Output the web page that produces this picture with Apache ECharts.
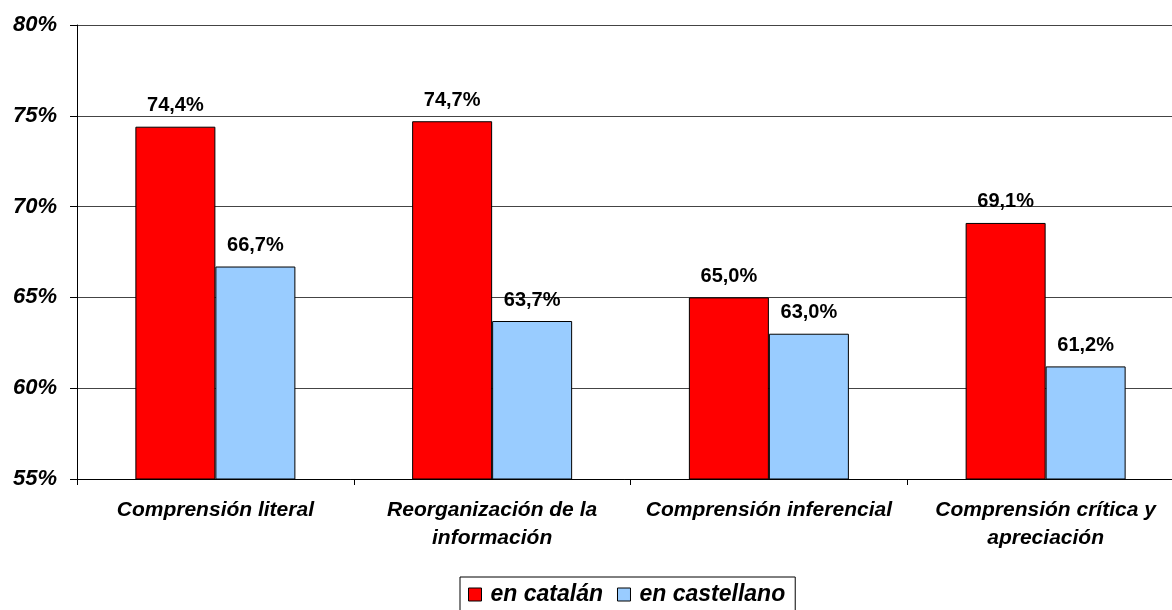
<!DOCTYPE html>
<html><head><meta charset="utf-8">
<script src="https://cdn.jsdelivr.net/npm/echarts@6/dist/echarts.min.js"></script>
<style>html,body{margin:0;padding:0;background:#fff}#c{width:1172px;height:610px}</style>
</head><body><div id="c"></div>
<script>
var categories = ['Comprensión literal', 'Reorganización de la\ninformación', 'Comprensión inferencial', 'Comprensión crítica y\napreciación'];
var catalan = [74.4, 74.7, 65.0, 69.1];
var castellano = [66.7, 63.7, 63.0, 61.2];
var seriesNames = ['en catalán', 'en castellano'];
var yTicks = [55, 60, 65, 70, 75, 80];

var font = 'Liberation Sans, Arial, sans-serif';
var chart = echarts.init(document.getElementById('c'));
function fmt(v){ return v.toFixed(1).replace('.', ',') + '%'; }
chart.setOption({
  animation: false,
  grid: { left: 77, width: 1107, top: 25, height: 454, containLabel: false, outerBoundsMode: 'none' },
  legend: {
    top: 577, left: 460,
    data: seriesNames,
    itemWidth: 13, itemHeight: 13, itemGap: 14,
    icon: 'rect',
    itemStyle: { borderColor: '#000', borderWidth: 1 },
    borderColor: '#000', borderWidth: 1, padding: [6, 10, 6, 8],
    textStyle: { fontFamily: font, fontSize: 23, fontWeight: 'bold', fontStyle: 'italic', color: '#000', padding: [0, 0, 0, 4] }
  },
  xAxis: {
    type: 'category', data: categories,
    axisLine: { lineStyle: { color: '#000', width: 1 } },
    axisTick: { show: true, length: 6, lineStyle: { color: '#000' } },
    axisLabel: { fontFamily: font, fontSize: 21, fontWeight: 'bold', fontStyle: 'italic', color: '#000', margin: 17, lineHeight: 28, interval: 0 }
  },
  yAxis: {
    type: 'value', min: yTicks[0], max: yTicks[yTicks.length-1], interval: 5,
    axisLine: { show: true, lineStyle: { color: '#000', width: 1 } },
    axisTick: { show: true, length: 7, lineStyle: { color: '#000' } },
    splitLine: { lineStyle: { color: '#444', width: 1 } },
    axisLabel: { formatter: '{value}%', fontFamily: font, fontSize: 22, fontWeight: 'bold', fontStyle: 'italic', color: '#000', margin: 20 }
  },
  series: [
    { name: seriesNames[0], type: 'bar', data: catalan, barWidth: 80, barGap: '0%',
      itemStyle: { color: '#ff0000', borderColor: '#000', borderWidth: 1 },
      label: { show: true, position: 'top', distance: 11, formatter: function(p){return fmt(p.value);}, fontFamily: font, fontSize: 20, fontWeight: 'bold', color: '#000' } },
    { name: seriesNames[1], type: 'bar', data: castellano, barWidth: 80, barGap: '0%',
      itemStyle: { color: '#99ccff', borderColor: '#000', borderWidth: 1 },
      label: { show: true, position: 'top', distance: 11, formatter: function(p){return fmt(p.value);}, fontFamily: font, fontSize: 20, fontWeight: 'bold', color: '#000' } }
  ]
});
</script></body></html>
